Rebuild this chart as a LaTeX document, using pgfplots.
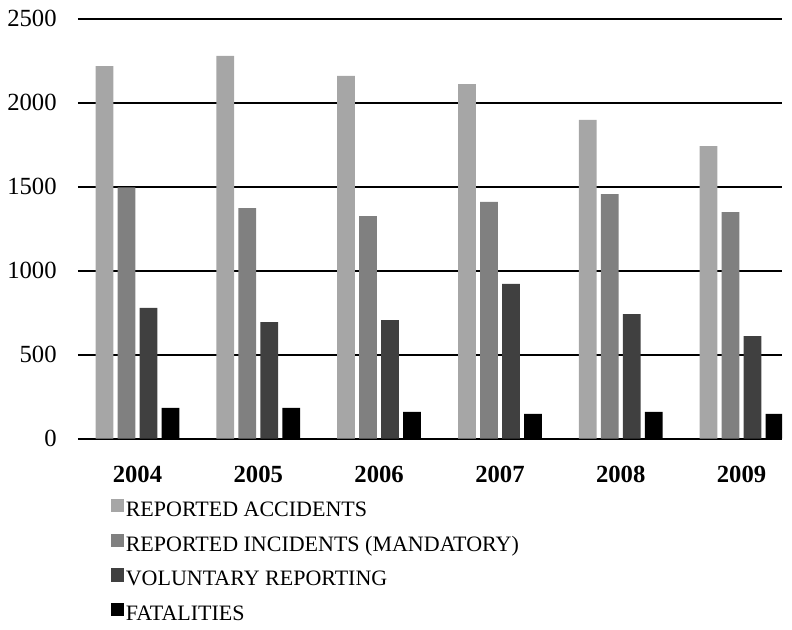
\documentclass[border=0pt]{standalone}
\usepackage{fontspec}
\setmainfont{Liberation Serif}
\usepackage{pgfplots}
\pgfplotsset{compat=1.18}
\definecolor{cRA}{HTML}{A6A6A6}
\definecolor{cRI}{HTML}{808080}
\definecolor{cVR}{HTML}{404040}
\definecolor{cF}{HTML}{000000}
\begin{document}
\begin{tikzpicture}
\begin{axis}[
  name=ax,
  scale only axis,
  width=528pt, height=315pt,
  ybar=3.2pt, bar width=13.3pt,
  xmin=-0.4925, xmax=5.335,
  ymin=0, ymax=2500,
  ytick={0,500,1000,1500,2000,2500},
  xtick=data,
  xticklabels={2004,2005,2006,2007,2008,2009},
  axis line style={draw=none},
  major tick length=0pt,
  ymajorgrids, grid style={black, line width=1.4pt},
  /pgf/number format/assume math mode=true,
  /pgf/number format/set thousands separator={},
  yticklabel style={font=\fontsize{18.5}{22}\selectfont, xshift=-12.5pt},
  xticklabel style={font=\fontsize{18.5}{22}\selectfont\bfseries, yshift=-17pt},
  legend style={at={(0.041,-0.137)}, anchor=north west, draw=none, fill=none,
    font=\fontsize{16.5}{19}\selectfont, row sep=8pt,
    nodes={inner sep=1pt, text height=12pt, text depth=4pt}},
  legend cell align=left,
  legend image code/.code={\fill[#1] (0pt,-1pt) rectangle (10pt,9pt);},
]
\addplot[fill=cRA, draw=none] coordinates {(0,2218) (1,2278) (2,2159) (3,2111) (4,1897) (5,1742)};
\addplot[fill=cRI, draw=none] coordinates {(0,1496) (1,1373) (2,1325) (3,1409) (4,1456) (5,1349)};
\addplot[fill=cVR, draw=none] coordinates {(0,778) (1,694) (2,706) (3,921) (4,742) (5,611)};
\addplot[fill=cF, draw=none] coordinates {(0,184) (1,184) (2,159) (3,147) (4,159) (5,147)};
\legend{REPORTED ACCIDENTS, REPORTED INCIDENTS (MANDATORY), VOLUNTARY REPORTING, FATALITIES}
\end{axis}
\path ([shift={(-58.5pt,-139pt)}]ax.south west) rectangle ([shift={(7.5pt,14pt)}]ax.north east);
\end{tikzpicture}
\end{document}
